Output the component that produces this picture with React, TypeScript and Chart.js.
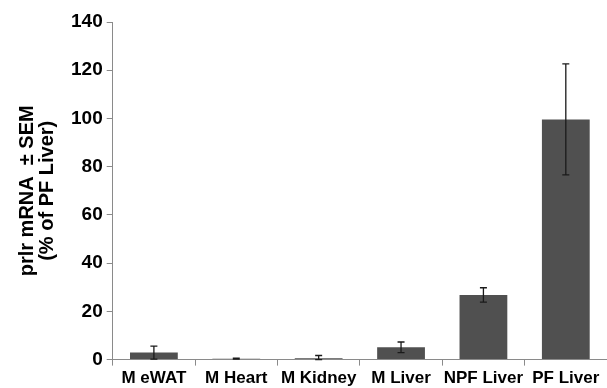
import React, { useEffect, useRef } from "react";
import { Chart, registerables } from "chart.js";

Chart.register(...registerables);

const categories = ["M eWAT", "M Heart", "M Kidney", "M Liver", "NPF Liver", "PF Liver"];
const meanValues = [2.9, 0.4, 0.6, 5.1, 26.8, 99.6];
const semValues = [2.7, 0.15, 1.1, 2.2, 3.0, 23.0];
const yTicks = [0, 20, 40, 60, 80, 100, 120, 140];

const FONT = "Arial, 'Liberation Sans', sans-serif";

const errorBarPlugin = {
  id: "errorBars",
  afterDatasetsDraw(chart: any) {
    const ctx = chart.ctx;
    const meta = chart.getDatasetMeta(0);
    const y = chart.scales.y;
    ctx.save();
    ctx.strokeStyle = "#1a1a1a";
    ctx.lineWidth = 1.3;
    meta.data.forEach((bar: any, i: number) => {
      const m = meanValues[i];
      const e = semValues[i];
      const x = bar.x;
      const top = y.getPixelForValue(m + e);
      const bot = y.getPixelForValue(Math.max(0, m - e));
      const cap = 3.5;
      ctx.beginPath();
      ctx.moveTo(x, top);
      ctx.lineTo(x, bot);
      ctx.moveTo(x - cap, top);
      ctx.lineTo(x + cap, top);
      ctx.moveTo(x - cap, bot);
      ctx.lineTo(x + cap, bot);
      ctx.stroke();
    });
    ctx.restore();
  },
};

export default function App() {
  const ref = useRef<HTMLCanvasElement | null>(null);
  useEffect(() => {
    if (!ref.current) return;
    const chart = new Chart(ref.current, {
      type: "bar",
      data: {
        labels: categories,
        datasets: [
          {
            data: meanValues,
            backgroundColor: "#505050",
            borderWidth: 0,
            barPercentage: 0.58,
            categoryPercentage: 1,
          },
        ],
      },
      options: {
        animation: false,
        responsive: false,
        maintainAspectRatio: false,
        layout: { padding: { top: 22, right: 0, left: 17, bottom: -4 } },
        plugins: { legend: { display: false }, tooltip: { enabled: false } },
        scales: {
          x: {
            grid: {
              offset: true,
              drawOnChartArea: false,
              drawTicks: true,
              tickLength: 6,
              color: "#8a8a8a",
            },
            border: { color: "#8a8a8a", width: 1 },
            ticks: {
              color: "#000",
              font: { family: FONT, size: 17, weight: "bold" },
              padding: 3,
              maxRotation: 0,
              minRotation: 0,
              autoSkip: false,
            },
          },
          y: {
            min: 0,
            max: 140,
            afterBuildTicks: (axis: any) => {
              axis.ticks = yTicks.map((v) => ({ value: v }));
            },
            grid: {
              drawOnChartArea: false,
              drawTicks: true,
              tickLength: 6,
              color: "#8a8a8a",
            },
            border: { color: "#8a8a8a", width: 1 },
            ticks: {
              color: "#000",
              font: { family: FONT, size: 19, weight: "bold" },
              padding: 4,
            },
            title: {
              display: true,
              text: ["prlr mRNA  ± SEM", "(% of PF Liver)"],
              color: "#000",
              font: { family: FONT, size: 20, weight: "bold", lineHeight: 1.0 },
              padding: { top: 0, bottom: 10 },
            },
          },
        },
      },
      plugins: [errorBarPlugin],
    });
    return () => chart.destroy();
  }, []);
  return (
    <div style={{ position: "fixed", left: 0, top: 0, width: 607, height: 388, background: "#fff" }}>
      <canvas ref={ref} width={607} height={388} style={{ display: "block" }} />
    </div>
  );
}
